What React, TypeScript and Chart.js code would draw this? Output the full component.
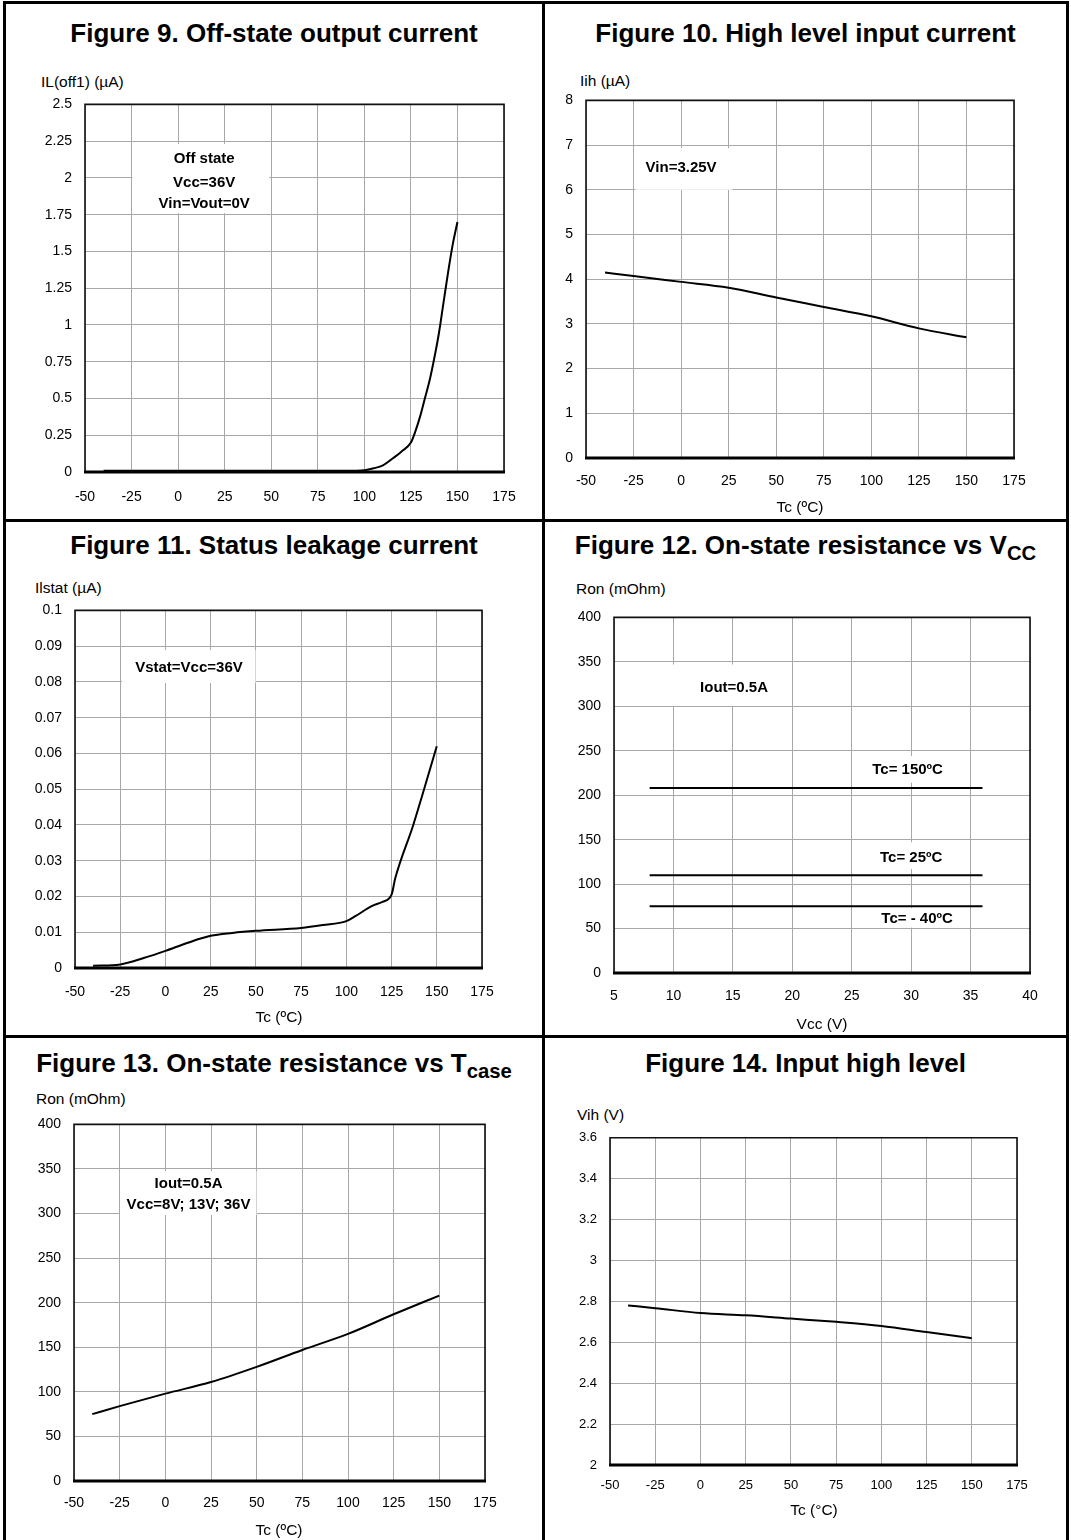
import React, { useEffect, useRef } from "react";
import { Chart, registerables } from "chart.js";
Chart.register(...registerables);

const FONT = '"Liberation Sans", Arial, Helvetica, sans-serif';

// ---------- shared tick labels ----------
const tcTicks = [-50, -25, 0, 25, 50, 75, 100, 125, 150, 175];
const vccTicks = [5, 10, 15, 20, 25, 30, 35, 40];
const ronTicks = [0, 50, 100, 150, 200, 250, 300, 350, 400];

// ---------- Figure 9 ----------
const fig9Tc = [-40, 0, 50, 90, 100, 105, 110, 115, 120, 125, 127.5, 130, 132.5, 135, 137.5, 140, 142.5, 145, 147.5, 150];
const fig9IL = [0.008, 0.008, 0.008, 0.008, 0.012, 0.025, 0.045, 0.09, 0.14, 0.2, 0.28, 0.38, 0.5, 0.62, 0.77, 0.94, 1.15, 1.36, 1.55, 1.7];
const fig9YTicks = [0, 0.25, 0.5, 0.75, 1, 1.25, 1.5, 1.75, 2, 2.25, 2.5];

// ---------- Figure 10 ----------
const fig10Tc = [-40, -25, 0, 25, 50, 75, 100, 125, 150];
const fig10Iih = [4.15, 4.07, 3.94, 3.81, 3.59, 3.38, 3.17, 2.9, 2.7];
const fig10YTicks = [0, 1, 2, 3, 4, 5, 6, 7, 8];

// ---------- Figure 11 ----------
const fig11Tc = [-40, -25, -12, 0, 12, 25, 37, 50, 75, 87, 100, 105, 114, 120, 125, 127, 137, 150];
const fig11Ilstat = [0.0006, 0.001, 0.0028, 0.0048, 0.007, 0.009, 0.0098, 0.0104, 0.0112, 0.012, 0.0131, 0.0145, 0.0173, 0.0185, 0.0205, 0.025, 0.04, 0.062];
const fig11YTicks = [0, 0.01, 0.02, 0.03, 0.04, 0.05, 0.06, 0.07, 0.08, 0.09, 0.1];

// ---------- Figure 12 ----------
const fig12Vcc = [8, 13, 36];
const fig12Ron150 = [208, 208, 208];
const fig12Ron25 = [110, 110, 110];
const fig12RonM40 = [75, 75, 75];

// ---------- Figure 13 ----------
const fig13Tc = [-40, -25, 0, 25, 50, 75, 100, 125, 150];
const fig13Ron = [75, 84, 98, 111, 128, 147, 165, 187, 208];

// ---------- Figure 14 ----------
const fig14Tc = [-40, -25, 0, 25, 50, 75, 100, 125, 150];
const fig14Vih = [2.78, 2.767, 2.743, 2.732, 2.716, 2.7, 2.68, 2.65, 2.62];
const fig14YTicks = [2, 2.2, 2.4, 2.6, 2.8, 3, 3.2, 3.4, 3.6];

type Ann = { lines: string[]; cx: number; cy: number[]; box: [number, number, number, number] };

const PAD_L = 70, PAD_T = 20, PAD_R = 40, PAD_B = 45;
const ANN_SIZE = 15;
const LABEL_SIZE = 15.5;

function pts(xs: number[], ys: number[]) {
  return xs.map((x, i) => ({ x, y: ys[i] }));
}

function lineDs(xs: number[], ys: number[]) {
  return {
    data: pts(xs, ys),
    borderColor: "#000",
    borderWidth: 2,
    pointRadius: 0,
    fill: false,
    cubicInterpolationMode: "monotone",
  };
}

function PlotCanvas(props: {
  rect: [number, number, number, number];
  xMin: number; xMax: number; xTicks: number[];
  yMin: number; yMax: number; yTicks: number[];
  datasets: any[]; anns: Ann[]; xPad: number; tickSize: number;
}) {
  const ref = useRef<HTMLCanvasElement>(null);
  const [L, T, R, B] = props.rect;
  const w = R - L + PAD_L + PAD_R;
  const h = B - T + PAD_T + PAD_B;
  useEffect(() => {
    const anns = props.anns;
    const plugin = {
      id: "annFrame",
      beforeDatasetsDraw(chart: any) {
        const { ctx } = chart;
        const x = chart.scales.x, y = chart.scales.y;
        ctx.save();
        for (const a of anns) {
          const x0 = x.getPixelForValue(a.box[0]), x1 = x.getPixelForValue(a.box[1]);
          const y0 = y.getPixelForValue(a.box[2]), y1 = y.getPixelForValue(a.box[3]);
          ctx.fillStyle = "#fff";
          ctx.fillRect(Math.min(x0, x1), Math.min(y0, y1), Math.abs(x1 - x0), Math.abs(y1 - y0));
          ctx.fillStyle = "#000";
          ctx.font = `bold ${ANN_SIZE}px ${FONT}`;
          ctx.textAlign = "center";
          ctx.textBaseline = "middle";
          a.lines.forEach((t, i) => ctx.fillText(t, x.getPixelForValue(a.cx), y.getPixelForValue(a.cy[i])));
        }
        ctx.restore();
      },
      afterDraw(chart: any) {
        const { ctx } = chart;
        const { left, top, right, bottom } = chart.chartArea;
        ctx.save();
        ctx.strokeStyle = "#111";
        ctx.lineWidth = 1.6;
        ctx.beginPath();
        ctx.moveTo(left, bottom);
        ctx.lineTo(left, top);
        ctx.lineTo(right, top);
        ctx.lineTo(right, bottom);
        ctx.stroke();
        ctx.strokeStyle = "#000";
        ctx.lineWidth = 3;
        ctx.beginPath();
        ctx.moveTo(left - 1, bottom);
        ctx.lineTo(right + 1, bottom);
        ctx.stroke();
        ctx.restore();
      },
    };
    const tickFont = { family: FONT, size: props.tickSize };
    const chart = new Chart(ref.current as HTMLCanvasElement, {
      type: "line",
      data: { datasets: props.datasets },
      options: {
        responsive: false,
        animation: false,
        devicePixelRatio: 1,
        layout: { padding: { left: 0, top: PAD_T, right: PAD_R, bottom: 0 } },
        plugins: { legend: { display: false }, tooltip: { enabled: false } },
        scales: {
          x: {
            type: "linear",
            min: props.xMin,
            max: props.xMax,
            afterFit: (s: any) => { s.height = PAD_B; },
            afterBuildTicks: (s: any) => { s.ticks = props.xTicks.map((v) => ({ value: v })); },
            grid: { color: "#a8a8a8", lineWidth: 1, drawTicks: false },
            border: { display: false },
            ticks: { padding: props.xPad, color: "#000", font: tickFont, maxRotation: 0, autoSkip: false, callback: (v: any) => String(v) },
          },
          y: {
            type: "linear",
            min: props.yMin,
            max: props.yMax,
            afterFit: (s: any) => { s.width = PAD_L; },
            afterBuildTicks: (s: any) => { s.ticks = props.yTicks.map((v) => ({ value: v })); },
            grid: { color: "#a8a8a8", lineWidth: 1, drawTicks: false },
            border: { display: false },
            ticks: { padding: 13, color: "#000", font: tickFont, autoSkip: false, callback: (v: any) => String(v) },
          },
        },
      } as any,
      plugins: [plugin],
    });
    return () => chart.destroy();
  }, []);
  return (
    <canvas
      ref={ref}
      width={w}
      height={h}
      style={{ position: "absolute", left: L - PAD_L, top: T - PAD_T, width: w, height: h }}
    />
  );
}

const textBase: React.CSSProperties = { position: "absolute", fontFamily: FONT, color: "#000", whiteSpace: "nowrap" };

function Title(props: { x0: number; x1: number; cy: number; children: any }) {
  return (
    <div style={{ ...textBase, left: props.x0, width: props.x1 - props.x0, top: props.cy - 15, height: 30, lineHeight: "30px", fontSize: 26, fontWeight: "bold", textAlign: "center" }}>
      {props.children}
    </div>
  );
}

function Label(props: { x: number; cy: number; text: string; center?: boolean }) {
  const style: React.CSSProperties = props.center
    ? { ...textBase, left: props.x - 100, width: 200, textAlign: "center", top: props.cy - 9, lineHeight: "18px", fontSize: LABEL_SIZE }
    : { ...textBase, left: props.x, top: props.cy - 9, lineHeight: "18px", fontSize: LABEL_SIZE };
  return <div style={style}>{props.text}</div>;
}

function Sub(props: { t: string }) {
  return <span style={{ fontSize: "0.78em", position: "relative", top: "0.32em" }}>{props.t}</span>;
}

function Line(props: { l: number; t: number; w: number; h: number }) {
  return <div style={{ position: "absolute", left: props.l, top: props.t, width: props.w, height: props.h, background: "#000" }} />;
}

export default function App() {
  return (
    <div style={{ position: "absolute", left: 0, top: 0, width: 1071, height: 1540, background: "#fff", overflow: "hidden" }}>
      {/* frame */}
      <Line l={3} t={1} w={1066} h={3} />
      <Line l={3} t={1} w={3} h={1545} />
      <Line l={1066} t={1} w={3} h={1545} />
      <Line l={542} t={1} w={3} h={1545} />
      <Line l={3} t={519} w={1066} h={3} />
      <Line l={3} t={1035} w={1066} h={3} />

      {/* Figure 9 */}
      <Title x0={6} x1={542} cy={33}>Figure 9. Off-state output current</Title>
      <Label x={41} cy={82} text="IL(off1) (µA)" />
      <PlotCanvas
        rect={[85, 103, 504, 472]}
        xMin={-50} xMax={175} xTicks={tcTicks}
        yMin={0} yMax={2.5} yTicks={fig9YTicks}
        datasets={[lineDs(fig9Tc, fig9IL)]}
        anns={[{ lines: ["Off state", "Vcc=36V", "Vin=Vout=0V"], cx: 14, cy: [2.127, 1.965, 1.822], box: [-24.5, 49, 1.76, 2.23] }]}
        xPad={17} tickSize={14}
      />

      {/* Figure 10 */}
      <Title x0={545} x1={1066} cy={33}>Figure 10. High level input current</Title>
      <Label x={580} cy={81} text="Iih (µA)" />
      <PlotCanvas
        rect={[586, 99, 1014, 458]}
        xMin={-50} xMax={175} xTicks={tcTicks}
        yMin={0} yMax={8} yTicks={fig10YTicks}
        datasets={[lineDs(fig10Tc, fig10Iih)]}
        anns={[{ lines: ["Vin=3.25V"], cx: 0, cy: [6.48], box: [-24, 27, 6.0, 6.93] }]}
        xPad={15} tickSize={14}
      />
      <Label x={800} cy={507} text="Tc (ºC)" center />

      {/* Figure 11 */}
      <Title x0={6} x1={542} cy={545}>Figure 11. Status leakage current</Title>
      <Label x={35} cy={588} text="Ilstat (µA)" />
      <PlotCanvas
        rect={[75, 609, 482, 968]}
        xMin={-50} xMax={175} xTicks={tcTicks}
        yMin={0} yMax={0.1} yTicks={fig11YTicks}
        datasets={[lineDs(fig11Tc, fig11Ilstat)]}
        anns={[{ lines: ["Vstat=Vcc=36V"], cx: 13, cy: [0.0839], box: [-24, 49.8, 0.0797, 0.0889] }]}
        xPad={16} tickSize={14}
      />
      <Label x={279} cy={1017} text="Tc (ºC)" center />

      {/* Figure 12 */}
      <Title x0={545} x1={1066} cy={545}>Figure 12. On-state resistance vs V<Sub t="CC" /></Title>
      <Label x={576} cy={589} text="Ron (mOhm)" />
      <PlotCanvas
        rect={[614, 616, 1030, 973]}
        xMin={5} xMax={40} xTicks={vccTicks}
        yMin={0} yMax={400} yTicks={ronTicks}
        datasets={[
          lineDs(fig12Vcc, fig12Ron150),
          lineDs(fig12Vcc, fig12Ron25),
          lineDs(fig12Vcc, fig12RonM40),
        ]}
        anns={[
          { lines: ["Iout=0.5A"], cx: 15.1, cy: [320.6], box: [9.9, 19.9, 300.5, 347] },
          { lines: ["Tc= 150ºC"], cx: 29.7, cy: [228.5], box: [26.3, 33.3, 214, 244] },
          { lines: ["Tc= 25ºC"], cx: 30, cy: [130], box: [26.8, 33.2, 117, 147] },
          { lines: ["Tc= - 40ºC"], cx: 30.5, cy: [60.7], box: [26.4, 34.6, 51, 73] },
        ]}
        xPad={15} tickSize={14}
      />
      <Label x={822} cy={1024} text="Vcc (V)" center />

      {/* Figure 13 */}
      <Title x0={6} x1={542} cy={1063}>Figure 13. On-state resistance vs T<Sub t="case" /></Title>
      <Label x={36} cy={1099} text="Ron (mOhm)" />
      <PlotCanvas
        rect={[74, 1123, 485, 1481]}
        xMin={-50} xMax={175} xTicks={tcTicks}
        yMin={0} yMax={400} yTicks={ronTicks}
        datasets={[lineDs(fig13Tc, fig13Ron)]}
        anns={[{ lines: ["Iout=0.5A", "Vcc=8V; 13V; 36V"], cx: 12.7, cy: [333.3, 309.5], box: [-24.8, 49.9, 298.5, 347.5] }]}
        xPad={14} tickSize={14}
      />
      <Label x={279} cy={1530} text="Tc (ºC)" center />

      {/* Figure 14 */}
      <Title x0={545} x1={1066} cy={1063}>Figure 14. Input high level</Title>
      <Label x={577} cy={1115} text="Vih (V)" />
      <PlotCanvas
        rect={[610, 1137, 1017, 1465]}
        xMin={-50} xMax={175} xTicks={tcTicks}
        yMin={2} yMax={3.6} yTicks={fig14YTicks}
        datasets={[lineDs(fig14Tc, fig14Vih)]}
        anns={[]}
        xPad={13} tickSize={13}
      />
      <Label x={814} cy={1510} text="Tc (°C)" center />
    </div>
  );
}
